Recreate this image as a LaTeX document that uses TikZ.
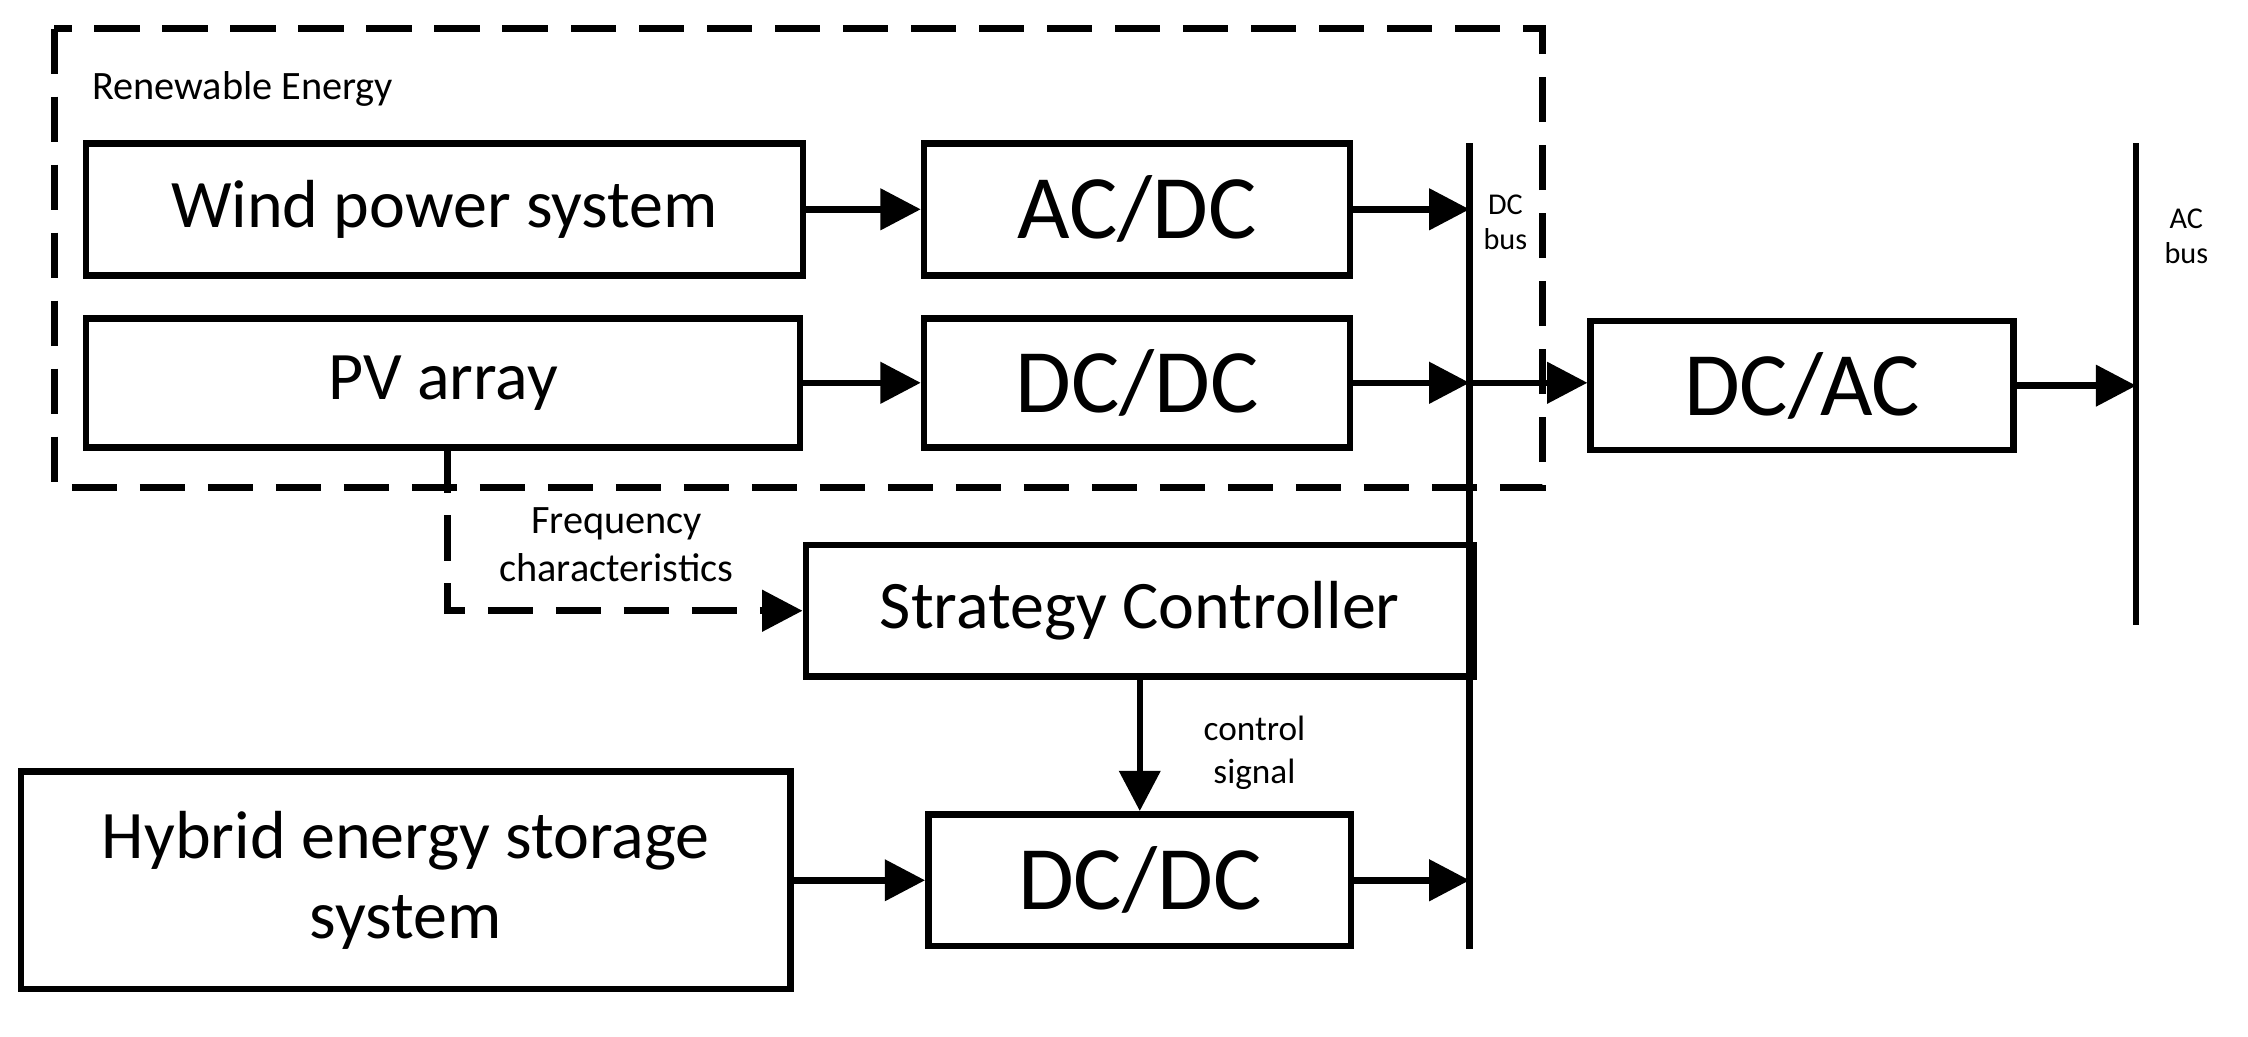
\documentclass[tikz,border=0pt]{standalone}
\usepackage{fontspec}
\setmainfont{Carlito}
\usetikzlibrary{arrows.meta}
\begin{document}
\begin{tikzpicture}[x=0.02cm,y=-0.02cm,
  box/.style={draw,line width=2.6pt,inner sep=0pt,align=center},
  arr/.style={line width=2.6pt,-{Triangle[length=16pt,width=16pt]}},
  bus/.style={line width=2.6pt},
  big/.style={font=\fontsize{36}{40}\selectfont},
  mid/.style={font=\fontsize{27}{32}\selectfont},
  sm/.style={font=\fontsize{16}{19}\selectfont,align=center},
  tiny/.style={font=\fontsize{12}{14}\selectfont,align=center}]
\useasboundingbox (0,0) rectangle (1568,723);
\draw[line width=2.6pt,dash pattern=on 18pt off 9pt] (38,20) rectangle (1076,340);
\node[sm,anchor=west] (re) at (58,62) {Renewable Energy};
\node[box,mid,minimum width=10cm,minimum height=1.84cm] (w) at (310,146) {Wind power system};
\node[box,big,minimum width=5.94cm,minimum height=1.84cm] (ac) at (793,146) {AC/DC};
\node[box,mid,minimum width=9.96cm,minimum height=1.8cm] (pv) at (309,267) {PV array};
\node[box,big,minimum width=5.94cm,minimum height=1.8cm] (dc1) at (793,267) {DC/DC};
\node[box,big,minimum width=5.9cm,minimum height=1.8cm] (dcac) at (1257,269) {DC/AC};
\node[box,mid,minimum width=9.32cm,minimum height=1.84cm] (sc) at (795,426) {Strategy Controller};
\node[box,mid,minimum width=10.74cm,minimum height=3.04cm] (hy) at (283,614) {Hybrid energy storage\\system};
\node[box,big,minimum width=5.9cm,minimum height=1.84cm] (dc2) at (795,614) {DC/DC};
\coordinate (b1) at (1025,100); \coordinate (b2) at (1025,662);
\draw[bus] (b1) -- (b2);
\coordinate (a1) at (1490,100); \coordinate (a2) at (1490,436);
\draw[bus] (a1) -- (a2);
\coordinate (bw) at (1025,146); \coordinate (bp) at (1025,267);
\coordinate (bh) at (1025,614); \coordinate (ba) at (1490,269);
\node[tiny] (dcb) at (1050,155) {DC\\bus};
\node[tiny] (acb) at (1525,165) {AC\\bus};
\draw[arr] (w.east) -- (ac.west);
\draw[arr] (ac.east) -- (bw);
\draw[arr] (pv.east) -- (dc1.west);
\draw[arr] (dc1.east) -- (bp);
\draw[arr] (bp) -- (dcac.west|-bp);
\draw[arr] (dcac.east) -- (ba);
\draw[arr] (hy.east|-dc2) -- (dc2.west);
\draw[arr] (dc2.east) -- (bh);
\draw[arr] (sc.south) -- (dc2.north);
\coordinate (pvb) at (312,312);
\draw[arr,dash pattern=on 18pt off 9pt] (pvb) |- (sc.west);
\node[sm] (fc) at (430,380) {Frequency\\characteristics};
\node[tiny,font=\fontsize{14}{17}\selectfont] (cs) at (875,525) {control\\signal};
\end{tikzpicture}
\end{document}
